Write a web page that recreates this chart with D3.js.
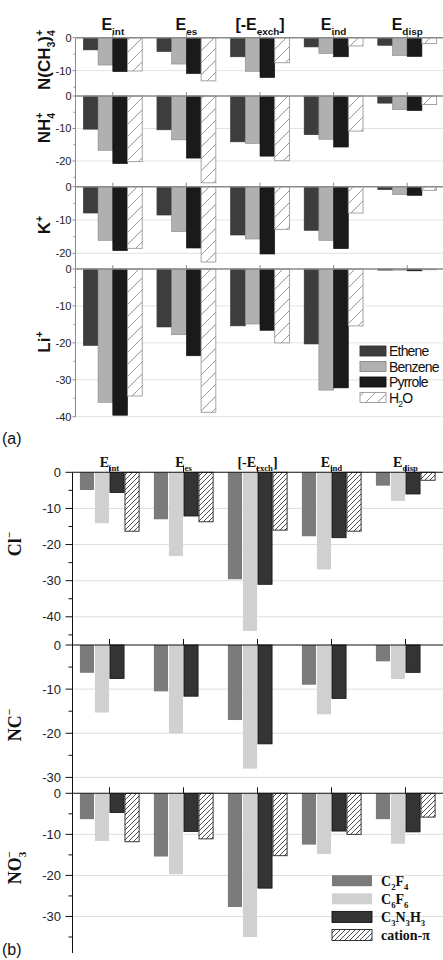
<!DOCTYPE html>
<html><head><meta charset="utf-8">
<script src="https://cdn.jsdelivr.net/npm/d3@7"></script>
<style>body{margin:0;background:#fff}svg{display:block}</style>
</head><body><svg id="c" width="443" height="960"></svg>
<script>
// ---------- DATA ----------
const categories = ["int","es","exch","ind","disp"];
const catMain = ["E","E","[-E","E","E"];
const catSub  = ["int","es","exch","ind","disp"];
const catTail = ["","","]","",""];

const seriesA = ["Ethene","Benzene","Pyrrole","H2O"];
const seriesB = ["C2F4","C6F6","C3N3H3","cation-π"];

// values per ion: [category][series]
const valNMe4 = [[-3.7,-8.3,-10.3,-10.1],[-4.2,-8.0,-10.9,-13.1],[-5.8,-10.2,-12.1,-7.6],[-2.8,-4.8,-5.8,-2.5],[-2.3,-5.4,-5.7,-1.8]];
const valNH4  = [[-10.2,-16.7,-20.8,-20.2],[-10.4,-13.5,-19.1,-26.7],[-14.1,-14.6,-18.5,-19.9],[-11.9,-13.3,-15.7,-10.8],[-2.2,-4.2,-4.5,-2.6]];
const valK    = [[-7.9,-16.1,-19.2,-18.5],[-8.5,-13.5,-18.4,-22.6],[-14.5,-15.7,-20.2,-12.8],[-13.1,-16.1,-18.6,-7.9],[-0.9,-2.4,-2.6,-1.1]];
const valLi   = [[-20.7,-36.1,-39.6,-34.4],[-15.7,-17.8,-23.5,-38.8],[-15.4,-14.9,-16.6,-20.0],[-20.3,-32.8,-32.2,-15.4],[-0.3,-0.3,-0.5,-0.2]];

const valCl  = [[-4.9,-14.1,-5.6,-16.3],[-13.0,-23.2,-12.1,-13.7],[-29.6,-43.9,-31.0,-16.0],[-17.7,-26.9,-18.1,-16.3],[-3.7,-7.9,-6.0,-2.2]];
const valNC  = [[-6.3,-15.3,-7.6,null],[-10.5,-20.0,-11.6,null],[-17.0,-28.0,-22.4,null],[-9.0,-15.7,-12.1,null],[-3.7,-7.7,-6.2,null]];
const valNO3 = [[-6.3,-11.6,-4.7,-11.8],[-15.4,-19.7,-9.3,-11.1],[-27.7,-35.0,-23.1,-15.2],[-12.5,-14.8,-9.2,-10.0],[-6.3,-12.3,-9.4,-5.8]];

const domainsA = [-17.7,-27.9,-24.7,-40];
const domainsB = [-47.8,-33.6,-38.9];
const ticksA = [[0,-10],[0,-10,-20],[0,-10,-20],[0,-10,-20,-30,-40]];
const ticksB = [[0,-10,-20,-30,-40],[0,-10,-20,-30],[0,-10,-20,-30]];

// label segments: 0 normal, 1 subscript, 2 superscript, 3 superscript stacked over previous subscript
const ionLabelsA = [
  [["N(CH",0],["3",1],[")",0],["4",1],["+",3]],
  [["NH",0],["4",1],["+",3]],
  [["K",0],["+",2]],
  [["Li",0],["+",2]]
];
const ionLabelsB = [
  [["Cl",0],["−",2]],
  [["NC",0],["−",2]],
  [["NO",0],["3",1],["−",3]]
];
const legendA = [[["Ethene",0]],[["Benzene",0]],[["Pyrrole",0]],[["H",0],["2",1],["O",0]]];
const legendB = [[["C",0],["2",1],["F",0],["4",1]],[["C",0],["6",1],["F",0],["6",1]],[["C",0],["3",1],["N",0],["3",1],["H",0],["3",1]],[["cation-π",0]]];

// ---------- DRAW ----------
const svg = d3.select("#c");
const defs = svg.append("defs");
const hA = defs.append("pattern").attr("id","hA").attr("patternUnits","userSpaceOnUse").attr("width",12).attr("height",12);
hA.append("rect").attr("width",12).attr("height",12).attr("fill","#fff");
hA.append("path").attr("d","M-3,3 L3,-3 M0,12 L12,0 M9,15 L15,9").attr("stroke","#8c8c8c").attr("stroke-width",0.9);
const hB = defs.append("pattern").attr("id","hB").attr("patternUnits","userSpaceOnUse").attr("width",5).attr("height",5);
hB.append("rect").attr("width",5).attr("height",5).attr("fill","#fff");
hB.append("path").attr("d","M-1,1 L1,-1 M0,5 L5,0 M4,6 L6,4").attr("stroke","#222").attr("stroke-width",0.8);

function segText(sel, segs, fs) {
  let cur = 0, prevLen = 0;
  segs.forEach(([t,type]) => {
    const ts = sel.append("tspan").text(t);
    let target = 0, size = fs;
    if (type===1) { target = 0.3*fs; size = 0.62*fs; }
    if (type===2 || type===3) { target = -0.42*fs; size = 0.62*fs; }
    ts.attr("dy", target - cur).attr("font-size", size);
    if (type===3) ts.attr("dx", -prevLen*0.56*0.62*fs);
    cur = target;
    prevLen = t.length;
  });
}

function panel(cfg) {
  const x = d3.scaleBand().domain(categories).range([cfg.x0, cfg.x1]);
  const bw = x.bandwidth();
  const xi = d3.scaleBand().domain(cfg.series).range([bw*0.1, bw*0.9]).paddingInner(cfg.inner);
  const g = svg.append("g");
  cfg.rows.forEach((vals, r) => {
    const top = cfg.tops[r], bot = r < cfg.tops.length-1 ? cfg.tops[r+1] : cfg.bottom;
    const y = d3.scaleLinear().domain([cfg.domains[r], 0]).range([bot, top]);
    g.selectAll(null).data(cfg.ticks[r].filter(d=>d!==0)).enter().append("line")
      .attr("x1", cfg.x0).attr("x2", 443).attr("y1", d=>y(d)).attr("y2", d=>y(d))
      .attr("stroke", cfg.grid).attr("stroke-width", 1);
    vals.forEach((cv, ci) => {
      cv.forEach((v, si) => {
        if (v === null) return;
        g.append("rect")
          .attr("x", x(categories[ci]) + xi(cfg.series[si]))
          .attr("width", xi.bandwidth())
          .attr("y", y(0)).attr("height", y(v) - y(0))
          .attr("fill", cfg.fills[si]).attr("stroke", cfg.strokes[si])
          .attr("stroke-width", cfg.sw[si]);
      });
    });
    g.append("line").attr("x1", cfg.x0).attr("x2", 443).attr("y1", y(0)).attr("y2", y(0))
      .attr("stroke", cfg.zero).attr("stroke-width", cfg.zeroW);
    g.selectAll(null).data(categories).enter().append("line")
      .attr("x1", d=>x(d)+bw/2).attr("x2", d=>x(d)+bw/2)
      .attr("y1", y(0)).attr("y2", y(0)-cfg.catTick)
      .attr("stroke", cfg.zero).attr("stroke-width", 1);
    const minor = d3.range(-5, cfg.domains[r], -10);
    g.selectAll(null).data(minor).enter().append("line")
      .attr("x1", cfg.axisX - cfg.minorLen).attr("x2", cfg.axisX)
      .attr("y1", d=>y(d)).attr("y2", d=>y(d)).attr("stroke", cfg.axis).attr("stroke-width", 1);
    g.selectAll(null).data(cfg.ticks[r]).enter().append("line")
      .attr("x1", cfg.axisX - cfg.majorLen).attr("x2", cfg.axisX)
      .attr("y1", d=>y(d)).attr("y2", d=>y(d)).attr("stroke", cfg.axis).attr("stroke-width", 1);
    g.selectAll(null).data(cfg.ticks[r]).enter().append("text")
      .attr("x", cfg.labelX).attr("y", d=>y(d)).attr("dy", "0.36em")
      .attr("text-anchor", "end").attr("font-family", "Liberation Sans, Arial, sans-serif")
      .attr("font-size", cfg.tickFs).attr("font-weight", cfg.tickW).attr("fill", "#222")
      .text(d=>d);
    const lt = g.append("text")
      .attr("transform", `translate(${cfg.rowX},${cfg.rowY[r]}) rotate(-90)`)
      .attr("text-anchor", "middle").attr("font-family", cfg.rowFont)
      .attr("font-weight", "bold").attr("font-size", cfg.rowFs).attr("fill", "#111");
    segText(lt, cfg.ionLabels[r], cfg.rowFs);
  });
  g.append("line").attr("x1", cfg.axisX).attr("x2", cfg.axisX)
    .attr("y1", cfg.tops[0]).attr("y2", cfg.bottom).attr("stroke", cfg.axis).attr("stroke-width", 1);
  categories.forEach((c, i) => {
    const t = g.append("text").attr("x", x(c)+bw/2).attr("y", cfg.titleY)
      .attr("text-anchor", "middle").attr("font-family", cfg.titleFont)
      .attr("font-weight", cfg.titleW).attr("font-size", cfg.titleFs).attr("fill", "#111");
    t.append("tspan").text(catMain[i]);
    t.append("tspan").text(catSub[i]).attr("font-size", cfg.titleFs*0.62).attr("dy", cfg.titleFs*0.3);
    if (catTail[i]) t.append("tspan").text(catTail[i]).attr("dy", -cfg.titleFs*0.3);
  });
  cfg.legend.forEach((segs, i) => {
    const cy = cfg.legY + i*cfg.legStep;
    g.append("rect").attr("x", cfg.legX).attr("y", cy - cfg.legH/2)
      .attr("width", cfg.legW).attr("height", cfg.legH)
      .attr("fill", cfg.fills[i]).attr("stroke", cfg.legStroke[i]).attr("stroke-width", 0.9);
    const t = g.append("text").attr("x", cfg.legTX).attr("y", cy + cfg.legFs*0.36)
      .attr("font-family", cfg.legFont).attr("font-weight", cfg.legW8)
      .attr("font-size", cfg.legFs).attr("letter-spacing", cfg.legLS).attr("fill", "#111");
    segText(t, segs, cfg.legFs);
  });
}

panel({
  x0: 76, x1: 444, series: seriesA, inner: 0,
  rows: [valNMe4, valNH4, valK, valLi], domains: domainsA, ticks: ticksA,
  tops: [37.7, 96, 186.7, 269], bottom: 416.7,
  fills: ["#3d3d3d","#b0b0b0","#1a1a1a","url(#hA)"],
  strokes: ["#333","#888","#111","#9a9a9a"], sw: [0.6,0.6,0.6,0.9],
  grid: "#e2e2e2", zero: "#8a8a8a", zeroW: 1.4, catTick: 4, axis: "#8a8a8a",
  axisX: 75.5, majorLen: 3, minorLen: 2, labelX: 71.5, tickFs: 11, tickW: "normal",
  rowX: 50, rowY: [60, 128, 225, 342], rowFont: "Liberation Sans, Arial, sans-serif", rowFs: 17,
  ionLabels: ionLabelsA,
  titleY: 30, titleFont: "Liberation Sans, Arial, sans-serif", titleW: "bold", titleFs: 16,
  legend: legendA, legX: 360, legW: 26, legH: 10, legY: 351, legStep: 15.5,
  legStroke: ["#333","#888","#111","#9a9a9a"], legTX: 389, legFs: 14,
  legFont: "Liberation Sans, Arial, sans-serif", legW8: "normal", legLS: -0.8
});

panel({
  x0: 72.5, x1: 442.5, series: seriesB, inner: 0.06,
  rows: [valCl, valNC, valNO3], domains: domainsB, ticks: ticksB,
  tops: [472.3, 645, 793.3], bottom: 953,
  fills: ["#7b7b7b","#d0d0d0","#343434","url(#hB)"],
  strokes: ["none","none","#111","#222"], sw: [0,0,0.8,0.9],
  grid: "#dedede", zero: "#111", zeroW: 1.1, catTick: 6, axis: "#111",
  axisX: 72.5, majorLen: 7, minorLen: 4, labelX: 61, tickFs: 13, tickW: "normal",
  rowX: 21, rowY: [544, 725, 868], rowFont: "Liberation Serif, Times New Roman, serif", rowFs: 18,
  ionLabels: ionLabelsB,
  titleY: 467, titleFont: "Liberation Serif, Times New Roman, serif", titleW: "bold", titleFs: 14,
  legend: legendB, legX: 332, legW: 40, legH: 11, legY: 880.7, legStep: 18.1,
  legStroke: ["none","none","#111","#222"], legTX: 381, legFs: 14,
  legFont: "Liberation Serif, Times New Roman, serif", legW8: "bold", legLS: 0
});

svg.append("text").attr("x", 2).attr("y", 444).attr("font-family","Liberation Sans, Arial, sans-serif")
  .attr("font-size", 16).attr("fill","#111").text("(a)");
svg.append("text").attr("x", 2).attr("y", 955).attr("font-family","Liberation Sans, Arial, sans-serif")
  .attr("font-size", 16).attr("fill","#111").text("(b)");
</script></body></html>
